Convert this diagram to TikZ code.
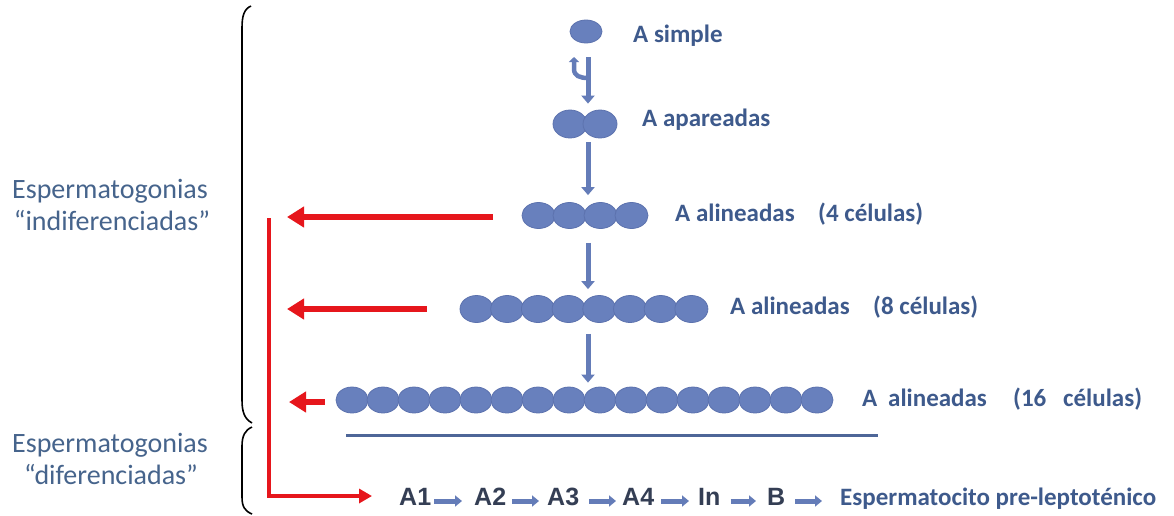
\documentclass[tikz,border=0pt]{standalone}
\usepackage{fontspec}
\setmainfont{Carlito}
\newfontfamily\arialfont{Liberation Sans}
\usetikzlibrary{shapes.geometric,arrows.meta,calc}
\definecolor{cellfill}{RGB}{104,128,189}
\definecolor{celledge}{RGB}{92,114,174}
\definecolor{arrowblue}{RGB}{100,124,184}
\definecolor{labelblue}{RGB}{62,90,140}
\definecolor{sideblue}{RGB}{70,100,140}
\definecolor{stagegray}{RGB}{52,62,84}
\definecolor{arrowred}{RGB}{230,22,28}
\definecolor{rulerblue}{RGB}{78,102,152}
\begin{document}
\begin{tikzpicture}[x=1pt,y=-1pt,
  cell/.style={ellipse,draw=celledge,fill=cellfill,line width=0.8pt,inner sep=0pt},
  lbl/.style={anchor=base west,inner sep=0pt,text=labelblue,font=\fontsize{25}{30}\selectfont\bfseries},
  side/.style={anchor=base,inner sep=0pt,text=sideblue,font=\fontsize{28}{32}\selectfont},
  stage/.style={anchor=base west,inner sep=0pt,text=stagegray,font=\arialfont\fontsize{25}{30}\selectfont\bfseries},
  varrow/.style={draw=arrowblue,line width=5pt,-{Triangle[width=13pt,length=8pt]}},
  harrow/.style={draw=arrowblue,line width=5pt,-{Triangle[width=11pt,length=7pt]}},
  redarrow/.style={draw=arrowred,line width=6pt,-{Triangle[width=20pt,length=17pt]}},
  redline/.style={draw=arrowred,line width=4pt,-{Triangle[width=14pt,length=13pt]}},
  brace/.style={draw=black,line width=1.6pt}]
\useasboundingbox[fill=white] (0,0) rectangle (1174,515);

% braces on the left
\draw[brace] (251,6) .. controls (244,9) and (242,16) .. (242,28) -- (242,400)
  .. controls (242,413) and (245,419) .. (252,423);
\draw[brace] (252,427) .. controls (245,430) and (242,436) .. (242,446) -- (242,497)
  .. controls (242,507) and (245,511) .. (252,514);

% group labels
\node[side] (ind1) at (110,198) {Espermatogonias};
\node[side] (ind2) at (112,230) {“indiferenciadas”};
\node[side] (dif1) at (110,452) {Espermatogonias};
\node[side] (dif2) at (111,484) {“diferenciadas”};

% cells
\node[cell,minimum width=32pt,minimum height=23pt] (s) at (586,31.5) {};
\node[cell,minimum width=34pt,minimum height=28pt] (pa1) at (570,124) {};
\node[cell,minimum width=34pt,minimum height=28pt] (pa2) at (600,124) {};
\foreach \i in {1,...,4}
  \node[cell,minimum width=33pt,minimum height=26pt] (c4-\i) at ({538.5+31*(\i-1)},215.5) {};
\foreach \i in {1,...,8}
  \node[cell,minimum width=33pt,minimum height=27pt] (c8-\i) at ({476.5+30.7*(\i-1)},309) {};
\foreach \i in {1,...,16}
  \node[cell,minimum width=32pt,minimum height=26pt] (c16-\i) at ({352+31*(\i-1)},400) {};

% stage labels
\node[lbl] (ls) at (633,42) {A simple};
\node[lbl] (lpa) at (642,126) {A apareadas};
\node[lbl] (l4a) at (675,221) {A alineadas};
\node[lbl] (l4b) at (818,221) {(4 células)};
\node[lbl] (l8a) at (730,314) {A alineadas};
\node[lbl] (l8b) at (873,314) {(8 células)};
\node[lbl] (l16a) at (862,406) {A};
\node[lbl] (l16b) at (888,406) {alineadas};
\node[lbl] (l16c) at (1013,406) {(16};
\node[lbl] (l16d) at (1063,406) {células)};

% vertical progression arrows
\coordinate (col) at (588,0);
\draw[varrow] ([yshift=-14pt]s.south -| col) -- ([yshift=6pt]pa1.north -| col);
\draw[draw=arrowblue,line width=4.5pt,{Triangle[width=10pt,length=5pt]}-]
  (574,57) -- (574,69) .. controls (574,76) and (580,78) .. (588,78);
\draw[varrow] ([yshift=-4pt]pa1.south -| col) -- ([yshift=7pt]c4-1.north -| col);
\draw[varrow] ([yshift=-14pt]c4-1.south -| col) -- ([yshift=6pt]c8-1.north -| col);
\draw[varrow] ([yshift=-11pt]c8-1.south -| col) -- ([yshift=4pt]c16-1.north -| col);

% separator under the 16-cell row
\draw[draw=rulerblue,line width=3pt] (346,435) -- (878,435);

% red arrows towards differentiation
\coordinate (t4) at (287,217);
\coordinate (t8) at (287,309);
\coordinate (t16) at (289,402);
\draw[redarrow] ([xshift=-29pt,yshift=-1.5pt]c4-1.west) -- (t4);
\draw[redarrow] ([xshift=-33pt]c8-1.west) -- (t8);
\draw[redarrow] ([xshift=-11pt,yshift=-2pt]c16-1.west) -- (t16);
\coordinate (lstart) at (269,218);

% differentiated sequence
\node[stage] (a1) at (399,505) {A1};
\node[stage] (a2) at (474,505) {A2};
\node[stage] (a3) at (547,505) {A3};
\node[stage] (a4) at (622,505) {A4};
\node[stage] (in) at (698,505) {In};
\node[stage] (b) at (767,505) {B};
\node[lbl,text=labelblue] (esp) at (840,505) {Espermatocito pre-leptoténico};

\draw[redline] (lstart) |- ([xshift=-27pt,yshift=9pt]a1.base west);
\draw[harrow] ([xshift=3pt,yshift=4pt]a1.base east) -- ([xshift=-12pt,yshift=4pt]a2.base west);
\draw[harrow] ([xshift=6pt,yshift=4pt]a2.base east) -- ([xshift=-8pt,yshift=4pt]a3.base west);
\draw[harrow] ([xshift=10pt,yshift=4pt]a3.base east) -- ([xshift=-6pt,yshift=4pt]a4.base west);
\draw[harrow] ([xshift=7pt,yshift=4pt]a4.base east) -- ([xshift=-9pt,yshift=4pt]in.base west);
\draw[harrow] ([xshift=10pt,yshift=4pt]in.base east) -- ([xshift=-11pt,yshift=4pt]b.base west);
\draw[harrow] ([xshift=10pt,yshift=4pt]b.base east) -- ([xshift=-18pt,yshift=4pt]esp.base west);
\end{tikzpicture}
\end{document}
